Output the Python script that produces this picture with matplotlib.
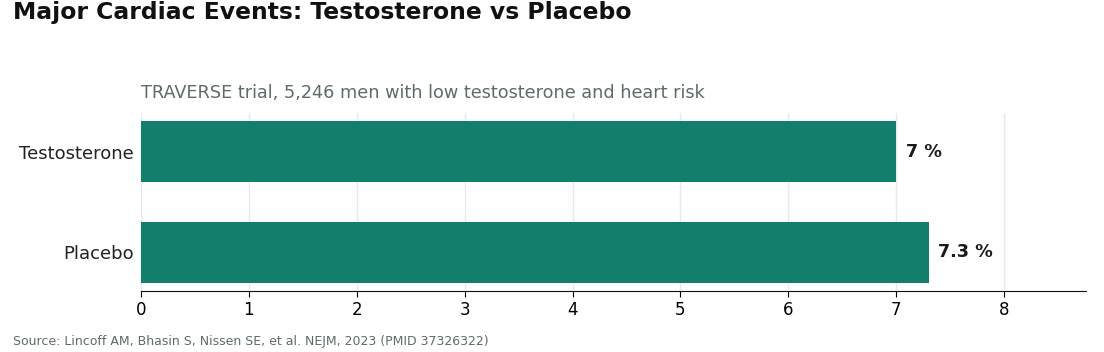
import matplotlib.pyplot as plt
import numpy as np

groups = ["Testosterone", "Placebo"]
event_pct = [7.0, 7.3]
value_labels = ["7 %", "7.3 %"]

fig = plt.figure(figsize=(11.04, 3.52), dpi=100)
ax = fig.add_axes([141 / 1104, 1 - 291 / 352, (1086 - 141) / 1104, (291 - 113) / 352])

y = np.arange(len(groups))
ax.barh(y, event_pct, height=0.61, color="#117f6b", zorder=3)
ax.set_yticks(y)
ax.set_yticklabels(groups, fontsize=13, color="#222222")
ax.invert_yaxis()
ax.set_xlim(0, max(event_pct) * 1.2)
ax.set_xticks(np.arange(0, 9))
ax.tick_params(axis="x", labelsize=12, length=4)
ax.tick_params(axis="y", length=0, pad=5)

for yi, v, lab in zip(y, event_pct, value_labels):
    ax.text(v + 0.09, yi, lab, va="center", ha="left", fontsize=12.7,
            fontweight="bold", color="#1a1a1a")

ax.grid(axis="x", color="#e3ecec", linewidth=1, zorder=0)
for s in ["top", "right", "left"]:
    ax.spines[s].set_visible(False)
ax.spines["bottom"].set_color("#111111")

ax.set_title("TRAVERSE trial, 5,246 men with low testosterone and heart risk",
             loc="left", fontsize=12.7, color="#5d6b6b", pad=11)
fig.text(13 / 1104, 1 - 13 / 352, "Major Cardiac Events: Testosterone vs Placebo",
         fontsize=16.9, fontweight="bold", color="#111111", ha="left", va="center")
fig.text(13 / 1104, 1 - 342 / 352,
         "Source: Lincoff AM, Bhasin S, Nissen SE, et al. NEJM, 2023 (PMID 37326322)",
         fontsize=9, color="#5d6b6b", ha="left", va="center")

fig.savefig("out.png", dpi=100)
